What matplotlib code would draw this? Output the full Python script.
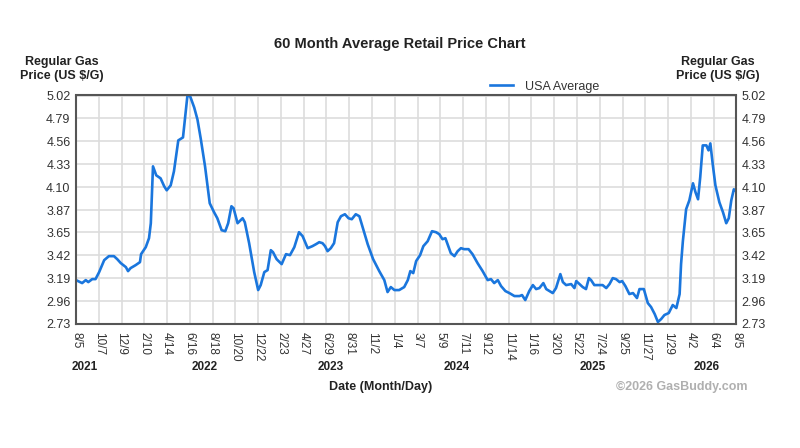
import numpy as np
import matplotlib.pyplot as plt

plt.rcParams['font.family'] = ['Liberation Sans', 'DejaVu Sans']

# USA average regular gas price
# x = days since 8/5/2021, y = US $/gal
days = [0, 17, 27, 34, 45, 54, 64, 78, 91, 105, 114, 124, 138, 144, 151, 165,
        177, 180, 193, 202, 207, 213, 222, 234, 244, 251, 262, 271, 283, 296,
        302, 308, 315, 327, 336, 345, 357, 370, 382, 391, 403, 413, 421, 430,
        436, 447, 461, 467, 479, 493, 504, 511, 521, 530, 539, 545, 555, 569,
        581, 592, 604, 617, 627, 641, 654, 664, 673, 682, 689, 696, 705, 714,
        724, 733, 744, 754, 763, 774, 784, 793, 807, 822, 839, 853, 862, 871,
        881, 894, 908, 918, 925, 933, 941, 952, 961, 973, 985, 996, 1005, 1014,
        1022, 1028, 1037, 1047, 1056, 1065, 1074, 1086, 1097, 1111, 1125, 1139,
        1148, 1157, 1167, 1176, 1188, 1199, 1213, 1227, 1234, 1243, 1254, 1264,
        1273, 1282, 1293, 1301, 1310, 1319, 1328, 1340, 1347, 1356, 1370, 1379,
        1384, 1393, 1402, 1411, 1419, 1425, 1434, 1444, 1457, 1467, 1476, 1485,
        1494, 1504, 1511, 1520, 1531, 1541, 1552, 1559, 1571, 1582, 1591, 1601,
        1610, 1619, 1628, 1640, 1651, 1661, 1670, 1674, 1679, 1688, 1697, 1707,
        1714, 1721, 1727, 1734, 1744, 1750, 1755, 1762, 1769, 1780, 1790, 1799,
        1806, 1813, 1820, 1826]
prices = [3.17, 3.14, 3.17, 3.15, 3.18, 3.18, 3.25, 3.37, 3.41, 3.41, 3.38,
          3.34, 3.30, 3.26, 3.29, 3.32, 3.35, 3.43, 3.50, 3.59, 3.74, 4.31,
          4.22, 4.19, 4.11, 4.07, 4.12, 4.26, 4.57, 4.60, 4.81, 5.01, 5.02,
          4.90, 4.78, 4.59, 4.31, 3.94, 3.85, 3.79, 3.67, 3.66, 3.74, 3.91,
          3.89, 3.74, 3.79, 3.75, 3.54, 3.25, 3.07, 3.12, 3.25, 3.27, 3.47,
          3.45, 3.38, 3.33, 3.43, 3.42, 3.50, 3.65, 3.61, 3.49, 3.51, 3.53,
          3.55, 3.54, 3.51, 3.46, 3.49, 3.54, 3.75, 3.81, 3.83, 3.79, 3.78,
          3.83, 3.81, 3.70, 3.53, 3.38, 3.26, 3.17, 3.05, 3.10, 3.07, 3.07,
          3.10, 3.17, 3.26, 3.24, 3.36, 3.42, 3.51, 3.56, 3.66, 3.65, 3.63,
          3.58, 3.59, 3.53, 3.44, 3.41, 3.46, 3.49, 3.48, 3.48, 3.43, 3.34,
          3.26, 3.17, 3.18, 3.14, 3.17, 3.11, 3.06, 3.04, 3.01, 3.01, 3.02,
          2.97, 3.06, 3.12, 3.08, 3.09, 3.14, 3.08, 3.06, 3.04, 3.09, 3.23,
          3.15, 3.12, 3.13, 3.09, 3.16, 3.13, 3.10, 3.08, 3.19, 3.17, 3.12,
          3.12, 3.12, 3.09, 3.13, 3.19, 3.18, 3.15, 3.16, 3.11, 3.03, 3.04,
          2.99, 3.08, 3.08, 2.94, 2.90, 2.83, 2.75, 2.78, 2.82, 2.84, 2.92,
          2.89, 3.03, 3.33, 3.56, 3.88, 3.97, 4.14, 4.05, 3.98, 4.20, 4.52,
          4.52, 4.47, 4.54, 4.32, 4.12, 3.95, 3.85, 3.74, 3.79, 3.97, 4.08,
          4.06]

y_ticks = [2.73, 2.96, 3.19, 3.42, 3.65, 3.87, 4.10, 4.33, 4.56, 4.79, 5.02]
x_tick_labels = ['8/5', '10/7', '12/9', '2/10', '4/14', '6/16', '8/18', '10/20',
                 '12/22', '2/23', '4/27', '6/29', '8/31', '11/2', '1/4', '3/7',
                 '5/9', '7/11', '9/12', '11/14', '1/16', '3/20', '5/22', '7/24',
                 '9/25', '11/27', '1/29', '4/2', '6/4', '8/5']
years = ['2021', '2022', '2023', '2024', '2025', '2026']

# layout
span = 1826
x_tick_days = [63 * i for i in range(len(x_tick_labels) - 1)] + [span]
year_days = [25, 357, 706, 1052, 1429, 1744]
line_color = '#1a76dd'
txt = '#333333'

fig = plt.figure(figsize=(8, 4.48), dpi=100)
ax = fig.add_axes([76 / 800, 1 - 324 / 448, 660 / 800, 228.5 / 448])

ax.plot(days, prices, color=line_color, lw=1.9, label='USA Average',
        solid_joinstyle='round')

ax.set_xlim(0, span)
ax.set_ylim(y_ticks[0], y_ticks[-1])
ax.set_yticks(y_ticks)
ax.set_yticklabels([f'{v:.2f}' for v in y_ticks])
ax.set_xticks(x_tick_days)
ax.set_xticklabels(x_tick_labels, rotation=270)
ax.tick_params(axis='y', length=0, pad=4, labelsize=9, labelcolor=txt,
               labelright=True)
ax.tick_params(axis='x', length=0, pad=6, labelsize=8.5, labelcolor=txt)
ax.grid(True, color='#dddddd', lw=1.2)
ax.set_axisbelow(True)
for s in ax.spines.values():
    s.set_color('#555555')
    s.set_linewidth(1.5)

# year labels under the date ticks
for yr, d in zip(years, year_days):
    ax.text(d, -0.19, yr, transform=ax.get_xaxis_transform(), ha='center',
            va='center', fontsize=8.5, fontweight='bold', color='#222222')

fig.text(400 / 800, 1 - 44 / 448, '60 Month Average Retail Price Chart',
         ha='center', va='center', fontsize=10.5, fontweight='bold',
         color='#222222')
fig.text(62 / 800, 1 - 69 / 448, 'Regular Gas\nPrice (US $/G)', ha='center',
         va='center', fontsize=9, fontweight='bold', color='#222222',
         linespacing=1.15)
fig.text(718 / 800, 1 - 69 / 448, 'Regular Gas\nPrice (US $/G)', ha='center',
         va='center', fontsize=9, fontweight='bold', color='#222222',
         linespacing=1.15)
fig.text(381 / 800, 1 - 387 / 448, 'Date (Month/Day)', ha='center',
         va='center', fontsize=9, fontweight='bold', color='#222222')
fig.text(748 / 800, 1 - 387 / 448, '\u00a92026 GasBuddy.com', ha='right',
         va='center', fontsize=9, fontweight='bold', color='#b0b0b0')

ax.legend(loc='lower left', bbox_to_anchor=(484 / 800, 1 - 99 / 448),
          bbox_transform=fig.transFigure, frameon=False, fontsize=9,
          handlelength=1.8, handletextpad=1.0, borderpad=0,
          labelcolor=txt)

fig.savefig('out.png', dpi=100, facecolor='white')
